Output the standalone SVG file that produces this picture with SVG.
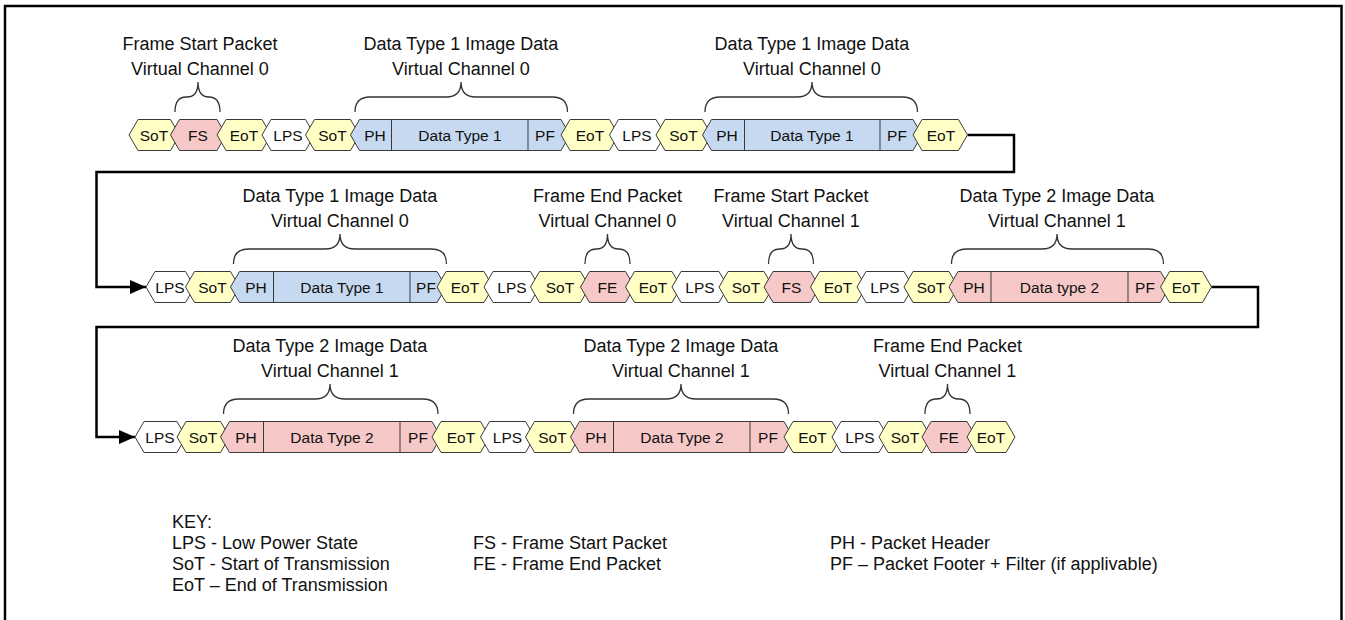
<svg xmlns="http://www.w3.org/2000/svg" width="1345" height="620" viewBox="0 0 1345 620">
<defs>
<style>
.hx{stroke:#3a3a3a;stroke-width:1}
.y{fill:#FFFFC6}
.w{fill:#FFFFFF}
.b{fill:#C6D9F0}
.p{fill:#F7C8C8}
.dv{stroke:#3a3a3a;stroke-width:1}
.t{font-family:"Liberation Sans",Arial,sans-serif;font-size:15.5px;fill:#111;text-anchor:middle}
.lbl{font-family:"Liberation Sans",Arial,sans-serif;font-size:18px;fill:#111;text-anchor:middle}
.key{font-family:"Liberation Sans",Arial,sans-serif;font-size:18px;fill:#111}
.br{fill:none;stroke:#333;stroke-width:1.3}
.cn{fill:none;stroke:#000;stroke-width:2.5}
</style>
<marker id="arr" markerUnits="userSpaceOnUse" markerWidth="16" markerHeight="14" refX="16" refY="7" orient="auto">
<path d="M0,0 L16,7 L0,14 z" fill="#000"/>
</marker>
</defs>
<rect x="5" y="6" width="1336.5" height="640" fill="none" stroke="#000" stroke-width="2.5"/>

<g id="connectors">
<path class="cn" d="M967.5,135 H1014 V172 H96.5 V287 H146" marker-end="url(#arr)"/>
<path class="cn" d="M1211.5,287 H1258 V327 H96.5 V437 H135" marker-end="url(#arr)"/>
</g>

<!-- Row 1 -->
<g id="r1-sot1"><polygon class="hx y" points="129,135 138,119.5 170.5,119.5 179.5,135 170.5,150.5 138,150.5"/><text class="t" x="154" y="140.5">SoT</text></g>
<g id="r1-fs"><polygon class="hx p" points="170.5,135 179.5,119.5 217,119.5 226,135 217,150.5 179.5,150.5"/><text class="t" x="198" y="140.5">FS</text></g>
<g id="r1-eot1"><polygon class="hx y" points="217,135 226,119.5 262,119.5 271,135 262,150.5 226,150.5"/><text class="t" x="244" y="140.5">EoT</text></g>
<g id="r1-lps1"><polygon class="hx w" points="262,135 271,119.5 305.5,119.5 314.5,135 305.5,150.5 271,150.5"/><text class="t" x="288" y="140.5">LPS</text></g>
<g id="r1-sot2"><polygon class="hx y" points="305.5,135 314.5,119.5 350.5,119.5 359.5,135 350.5,150.5 314.5,150.5"/><text class="t" x="332.5" y="140.5">SoT</text></g>
<g id="r1-pkt1"><polygon class="hx b" points="350.5,135 359.5,119.5 561,119.5 570,135 561,150.5 359.5,150.5"/><line class="dv" x1="391.5" y1="119.5" x2="391.5" y2="150.5"/><line class="dv" x1="528" y1="119.5" x2="528" y2="150.5"/><text class="t" x="375" y="140.5">PH</text><text class="t" x="460" y="140.5">Data Type 1</text><text class="t" x="545" y="140.5">PF</text></g>
<g id="r1-eot2"><polygon class="hx y" points="561,135 570,119.5 609.5,119.5 618.5,135 609.5,150.5 570,150.5"/><text class="t" x="590" y="140.5">EoT</text></g>
<g id="r1-lps2"><polygon class="hx w" points="609.5,135 618.5,119.5 656,119.5 665,135 656,150.5 618.5,150.5"/><text class="t" x="637" y="140.5">LPS</text></g>
<g id="r1-sot3"><polygon class="hx y" points="656,135 665,119.5 702.5,119.5 711.5,135 702.5,150.5 665,150.5"/><text class="t" x="683.5" y="140.5">SoT</text></g>
<g id="r1-pkt2"><polygon class="hx b" points="702.5,135 711.5,119.5 913,119.5 922,135 913,150.5 711.5,150.5"/><line class="dv" x1="744.5" y1="119.5" x2="744.5" y2="150.5"/><line class="dv" x1="880" y1="119.5" x2="880" y2="150.5"/><text class="t" x="727" y="140.5">PH</text><text class="t" x="812" y="140.5">Data Type 1</text><text class="t" x="897" y="140.5">PF</text></g>
<g id="r1-eot3"><polygon class="hx y" points="913,135 922,119.5 958.5,119.5 967.5,135 958.5,150.5 922,150.5"/><text class="t" x="941" y="140.5">EoT</text></g>

<!-- Row 2 -->
<g id="r2-lps1"><polygon class="hx w" points="146,287 155,271.5 185.5,271.5 194.5,287 185.5,302.5 155,302.5"/><text class="t" x="170" y="292.5">LPS</text></g>
<g id="r2-sot1"><polygon class="hx y" points="185.5,287 194.5,271.5 230.5,271.5 239.5,287 230.5,302.5 194.5,302.5"/><text class="t" x="212.5" y="292.5">SoT</text></g>
<g id="r2-pkt1"><polygon class="hx b" points="230.5,287 239.5,271.5 437,271.5 446,287 437,302.5 239.5,302.5"/><line class="dv" x1="273.5" y1="271.5" x2="273.5" y2="302.5"/><line class="dv" x1="410" y1="271.5" x2="410" y2="302.5"/><text class="t" x="256" y="292.5">PH</text><text class="t" x="342" y="292.5">Data Type 1</text><text class="t" x="426" y="292.5">PF</text></g>
<g id="r2-eot1"><polygon class="hx y" points="437,287 446,271.5 484,271.5 493,287 484,302.5 446,302.5"/><text class="t" x="465" y="292.5">EoT</text></g>
<g id="r2-lps2"><polygon class="hx w" points="484,287 493,271.5 530.5,271.5 539.5,287 530.5,302.5 493,302.5"/><text class="t" x="512" y="292.5">LPS</text></g>
<g id="r2-sot2"><polygon class="hx y" points="530.5,287 539.5,271.5 580.5,271.5 589.5,287 580.5,302.5 539.5,302.5"/><text class="t" x="560" y="292.5">SoT</text></g>
<g id="r2-fe"><polygon class="hx p" points="580.5,287 589.5,271.5 625.5,271.5 634.5,287 625.5,302.5 589.5,302.5"/><text class="t" x="607.5" y="292.5">FE</text></g>
<g id="r2-eot2"><polygon class="hx y" points="625.5,287 634.5,271.5 672,271.5 681,287 672,302.5 634.5,302.5"/><text class="t" x="653" y="292.5">EoT</text></g>
<g id="r2-lps3"><polygon class="hx w" points="672,287 681,271.5 719,271.5 728,287 719,302.5 681,302.5"/><text class="t" x="700" y="292.5">LPS</text></g>
<g id="r2-sot3"><polygon class="hx y" points="719,287 728,271.5 764,271.5 773,287 764,302.5 728,302.5"/><text class="t" x="746" y="292.5">SoT</text></g>
<g id="r2-fs"><polygon class="hx p" points="764,287 773,271.5 810.5,271.5 819.5,287 810.5,302.5 773,302.5"/><text class="t" x="791.5" y="292.5">FS</text></g>
<g id="r2-eot3"><polygon class="hx y" points="810.5,287 819.5,271.5 857,271.5 866,287 857,302.5 819.5,302.5"/><text class="t" x="838" y="292.5">EoT</text></g>
<g id="r2-lps4"><polygon class="hx w" points="857,287 866,271.5 904,271.5 913,287 904,302.5 866,302.5"/><text class="t" x="885" y="292.5">LPS</text></g>
<g id="r2-sot4"><polygon class="hx y" points="904,287 913,271.5 949,271.5 958,287 949,302.5 913,302.5"/><text class="t" x="931" y="292.5">SoT</text></g>
<g id="r2-pkt2"><polygon class="hx p" points="949,287 958,271.5 1160.5,271.5 1169.5,287 1160.5,302.5 958,302.5"/><line class="dv" x1="991" y1="271.5" x2="991" y2="302.5"/><line class="dv" x1="1128" y1="271.5" x2="1128" y2="302.5"/><text class="t" x="974" y="292.5">PH</text><text class="t" x="1059.5" y="292.5">Data type 2</text><text class="t" x="1145" y="292.5">PF</text></g>
<g id="r2-eot4"><polygon class="hx y" points="1160.5,287 1169.5,271.5 1202.5,271.5 1211.5,287 1202.5,302.5 1169.5,302.5"/><text class="t" x="1186" y="292.5">EoT</text></g>

<!-- Row 3 -->
<g id="r3-lps1"><polygon class="hx w" points="135,437 144,421.5 177,421.5 186,437 177,452.5 144,452.5"/><text class="t" x="160" y="442.5">LPS</text></g>
<g id="r3-sot1"><polygon class="hx y" points="177,437 186,421.5 220.5,421.5 229.5,437 220.5,452.5 186,452.5"/><text class="t" x="203" y="442.5">SoT</text></g>
<g id="r3-pkt1"><polygon class="hx p" points="220.5,437 229.5,421.5 432,421.5 441,437 432,452.5 229.5,452.5"/><line class="dv" x1="263.5" y1="421.5" x2="263.5" y2="452.5"/><line class="dv" x1="400" y1="421.5" x2="400" y2="452.5"/><text class="t" x="246" y="442.5">PH</text><text class="t" x="332" y="442.5">Data Type 2</text><text class="t" x="418" y="442.5">PF</text></g>
<g id="r3-eot1"><polygon class="hx y" points="432,437 441,421.5 480.5,421.5 489.5,437 480.5,452.5 441,452.5"/><text class="t" x="461" y="442.5">EoT</text></g>
<g id="r3-lps2"><polygon class="hx w" points="480.5,437 489.5,421.5 525.5,421.5 534.5,437 525.5,452.5 489.5,452.5"/><text class="t" x="507.5" y="442.5">LPS</text></g>
<g id="r3-sot2"><polygon class="hx y" points="525.5,437 534.5,421.5 570.5,421.5 579.5,437 570.5,452.5 534.5,452.5"/><text class="t" x="552.5" y="442.5">SoT</text></g>
<g id="r3-pkt2"><polygon class="hx p" points="570.5,437 579.5,421.5 784,421.5 793,437 784,452.5 579.5,452.5"/><line class="dv" x1="613.5" y1="421.5" x2="613.5" y2="452.5"/><line class="dv" x1="750" y1="421.5" x2="750" y2="452.5"/><text class="t" x="596" y="442.5">PH</text><text class="t" x="682" y="442.5">Data Type 2</text><text class="t" x="768" y="442.5">PF</text></g>
<g id="r3-eot2"><polygon class="hx y" points="784,437 793,421.5 832,421.5 841,437 832,452.5 793,452.5"/><text class="t" x="812.5" y="442.5">EoT</text></g>
<g id="r3-lps3"><polygon class="hx w" points="832,437 841,421.5 879,421.5 888,437 879,452.5 841,452.5"/><text class="t" x="860" y="442.5">LPS</text></g>
<g id="r3-sot3"><polygon class="hx y" points="879,437 888,421.5 922,421.5 931,437 922,452.5 888,452.5"/><text class="t" x="905" y="442.5">SoT</text></g>
<g id="r3-fe"><polygon class="hx p" points="922,437 931,421.5 967,421.5 976,437 967,452.5 931,452.5"/><text class="t" x="949" y="442.5">FE</text></g>
<g id="r3-eot3"><polygon class="hx y" points="967,437 976,421.5 1006,421.5 1015,437 1006,452.5 976,452.5"/><text class="t" x="991" y="442.5">EoT</text></g>

<!-- Braces and labels -->
<g id="lbl-r1-fs"><path class="br" d="M175,112 Q175,97 186,97 H187 Q198,97 198,82 Q198,97 209,97 H209 Q220,97 220,112"/><text class="lbl" x="200" y="50">Frame Start Packet</text><text class="lbl" x="200" y="75">Virtual Channel 0</text></g>
<g id="lbl-r1-dt1a"><path class="br" d="M355,112 Q355,97 370,97 H446 Q461,97 461,82 Q461,97 476,97 H552.5 Q567.5,97 567.5,112"/><text class="lbl" x="461" y="50">Data Type 1 Image Data</text><text class="lbl" x="461" y="75">Virtual Channel 0</text></g>
<g id="lbl-r1-dt1b"><path class="br" d="M705,112 Q705,97 720,97 H797 Q812,97 812,82 Q812,97 827,97 H902.5 Q917.5,97 917.5,112"/><text class="lbl" x="812" y="50">Data Type 1 Image Data</text><text class="lbl" x="812" y="75">Virtual Channel 0</text></g>

<g id="lbl-r2-dt1"><path class="br" d="M233.5,264 Q233.5,249 248.5,249 H325 Q340,249 340,234 Q340,249 355,249 H431.5 Q446.5,249 446.5,264"/><text class="lbl" x="340" y="202">Data Type 1 Image Data</text><text class="lbl" x="340" y="227">Virtual Channel 0</text></g>
<g id="lbl-r2-fe"><path class="br" d="M585,264 Q585,249 596,249 H596.5 Q607.5,249 607.5,234 Q607.5,249 618.5,249 H619 Q630,249 630,264"/><text class="lbl" x="607.5" y="202">Frame End Packet</text><text class="lbl" x="607.5" y="227">Virtual Channel 0</text></g>
<g id="lbl-r2-fs"><path class="br" d="M768.5,264 Q768.5,249 779.5,249 H780 Q791,249 791,234 Q791,249 802,249 H802.5 Q813.5,249 813.5,264"/><text class="lbl" x="791" y="202">Frame Start Packet</text><text class="lbl" x="791" y="227">Virtual Channel 1</text></g>
<g id="lbl-r2-dt2"><path class="br" d="M951.5,264 Q951.5,249 966.5,249 H1042 Q1057,249 1057,234 Q1057,249 1072,249 H1148.5 Q1163.5,249 1163.5,264"/><text class="lbl" x="1057" y="202">Data Type 2 Image Data</text><text class="lbl" x="1057" y="227">Virtual Channel 1</text></g>

<g id="lbl-r3-dt2a"><path class="br" d="M223.5,414 Q223.5,399 238.5,399 H315 Q330,399 330,384 Q330,399 345,399 H423 Q438,399 438,414"/><text class="lbl" x="330" y="352">Data Type 2 Image Data</text><text class="lbl" x="330" y="377">Virtual Channel 1</text></g>
<g id="lbl-r3-dt2b"><path class="br" d="M573.5,414 Q573.5,399 588.5,399 H666 Q681,399 681,384 Q681,399 696,399 H773.5 Q788.5,399 788.5,414"/><text class="lbl" x="681" y="352">Data Type 2 Image Data</text><text class="lbl" x="681" y="377">Virtual Channel 1</text></g>
<g id="lbl-r3-fe"><path class="br" d="M925,414 Q925,399 936,399 H936.5 Q947.5,399 947.5,384 Q947.5,399 958.5,399 H959 Q970,399 970,414"/><text class="lbl" x="947.5" y="352">Frame End Packet</text><text class="lbl" x="947.5" y="377">Virtual Channel 1</text></g>

<!-- Key -->
<g id="key">
<text class="key" x="172" y="528">KEY:</text>
<text class="key" x="172" y="548.5">LPS - Low Power State</text>
<text class="key" x="172" y="569.5">SoT - Start of Transmission</text>
<text class="key" x="172" y="591">EoT – End of Transmission</text>
<text class="key" x="473" y="548.5">FS - Frame Start Packet</text>
<text class="key" x="473" y="569.5">FE - Frame End Packet</text>
<text class="key" x="830" y="548.5">PH - Packet Header</text>
<text class="key" x="830" y="569.5">PF – Packet Footer + Filter (if applivable)</text>
</g>
</svg>
